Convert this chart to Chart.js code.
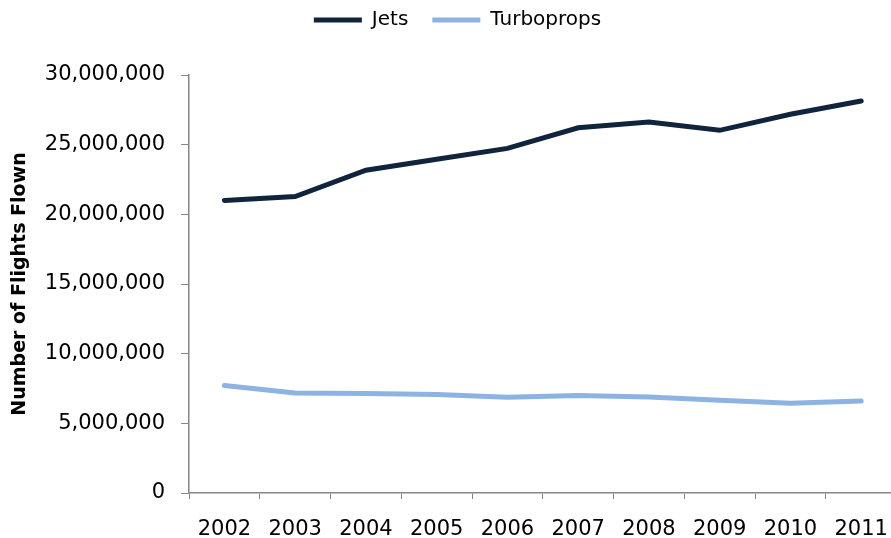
<!DOCTYPE html>
<html lang="en">
<head>
    <meta charset="UTF-8">
    <title>Number of Flights Flown</title>
    <script src="https://cdn.jsdelivr.net/npm/chart.js"></script>
</head>
<style>
    html, body {
        margin: 0;
        padding: 0;
        background: #ffffff;
        overflow: hidden;
    }

    .chart-box {
        width: 908px;
        height: 538px;
    }
</style>
<body>
    <div class="chart-box">
        <canvas id="chart"></canvas>
    </div>

    <script>
        const years = ['2002', '2003', '2004', '2005', '2006', '2007', '2008', '2009', '2010', '2011'];
        const jets = [21000000, 21280000, 23170000, 23950000, 24730000, 26210000, 26620000, 26030000, 27180000, 28130000];
        const turboprops = [7720000, 7170000, 7150000, 7070000, 6880000, 7000000, 6890000, 6650000, 6440000, 6600000];

        const axisColor = '#868686';
        const font = { family: 'DejaVu Sans', size: 21, lineHeight: 1 };

        // push the plot down under the legend
        const legendSpacer = {
            id: 'legendSpacer',
            beforeInit(chart) {
                const fit = chart.legend.fit;
                chart.legend.fit = function () {
                    fit.bind(chart.legend)();
                    this.height += 35;
                };
            }
        };

        const ctx = document.getElementById('chart').getContext('2d');
        const chart = new Chart(ctx, {
            type: 'line',
            data: {
                labels: years,
                datasets: [{
                    label: 'Jets',
                    data: jets,
                    borderColor: '#10243e',
                    backgroundColor: '#10243e',
                    borderWidth: 5,
                    borderCapStyle: 'round',
                    pointRadius: 0,
                    tension: 0
                }, {
                    label: 'Turboprops',
                    data: turboprops,
                    borderColor: '#8db3e2',
                    backgroundColor: '#8db3e2',
                    borderWidth: 5,
                    borderCapStyle: 'round',
                    pointRadius: 0,
                    tension: 0
                }]
            },
            plugins: [legendSpacer],
            options: {
                responsive: true,
                maintainAspectRatio: false,
                animation: false,
                layout: {
                    padding: { left: 9, right: 2, top: -14, bottom: -22 }
                },
                plugins: {
                    legend: {
                        position: 'top',
                        labels: {
                            usePointStyle: true,
                            pointStyle: 'line',
                            pointStyleWidth: 48,
                            boxWidth: 48,
                            color: '#000000',
                            font: { family: 'DejaVu Sans', size: 20 },
                            padding: 24
                        }
                    },
                    tooltip: { enabled: false }
                },
                scales: {
                    x: {
                        offset: true,
                        grid: {
                            offset: true,
                            drawOnChartArea: false,
                            drawTicks: true,
                            tickLength: 6,
                            color: axisColor
                        },
                        border: { color: axisColor, width: 1.5 },
                        ticks: {
                            color: '#000000',
                            font: font,
                            padding: 20,
                            maxRotation: 0
                        }
                    },
                    y: {
                        min: 0,
                        max: 30000000,
                        grid: {
                            drawOnChartArea: false,
                            drawTicks: true,
                            tickLength: 8,
                            color: axisColor
                        },
                        border: { color: axisColor, width: 1.5 },
                        ticks: {
                            stepSize: 5000000,
                            color: '#000000',
                            font: font,
                            padding: 16,
                            callback: v => v.toLocaleString('en-US')
                        },
                        title: {
                            display: true,
                            text: 'Number of Flights Flown',
                            color: '#000000',
                            font: { family: 'DejaVu Sans', size: 19, weight: 'bold' },
                            padding: { top: 0, bottom: -3 }
                        }
                    }
                }
            }
        });
    </script>
</body>
</html>
